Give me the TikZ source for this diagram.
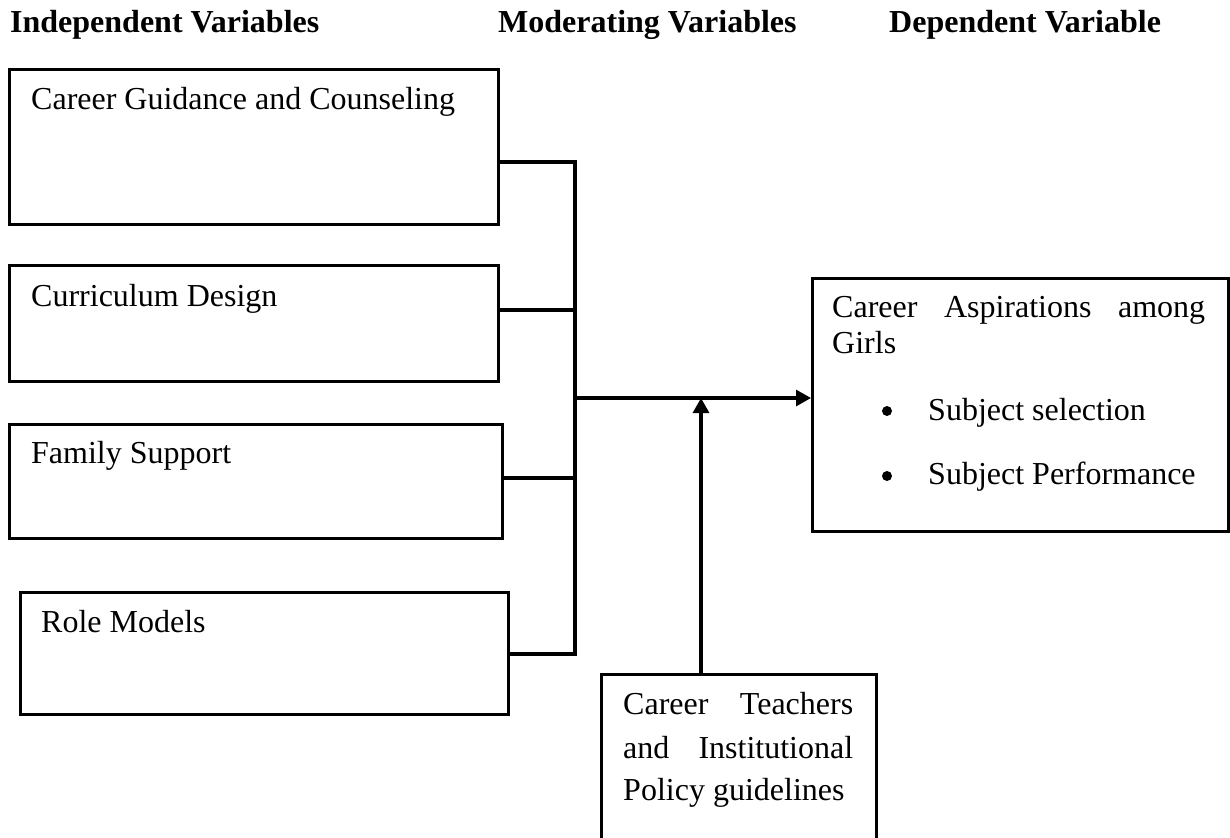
\documentclass[tikz,border=0pt]{standalone}
\usepackage{fontspec}
\setmainfont{Liberation Serif}
\usetikzlibrary{arrows.meta}
\begin{document}
\begin{tikzpicture}[x=1pt,y=-1pt,
  box/.style={draw, line width=3.3pt, rectangle, inner sep=0pt, anchor=north west},
  lbl/.style={anchor=base west, inner sep=0pt, font=\fontsize{32}{37}\selectfont},
  hdr/.style={anchor=base west, inner sep=0pt, font=\fontsize{32}{37}\selectfont\bfseries},
  bul/.style={circle, fill, inner sep=0pt, minimum size=10pt},
  conn/.style={line width=3.1pt},
  arr/.style={line width=3.1pt, -{Triangle[length=15pt,width=16pt]}}]
\clip (0,0) rectangle (1230,837);
\fill[white] (0,0) rectangle (1230,837);

% headers
\node[hdr] (h1) at (10,33) {Independent Variables};
\node[hdr] (h2) at (498,33) {Moderating Variables};
\node[hdr] (h3) at (889,33) {Dependent Variable};

% independent variable boxes
\node[box, minimum width=489pt, minimum height=155pt] (b1) at (8,68) {};
\node[lbl] (t1) at (31,110) {Career Guidance and Counseling};
\node[box, minimum width=489pt, minimum height=116pt] (b2) at (8,264) {};
\node[lbl] (t2) at (31,306) {Curriculum Design};
\node[box, minimum width=493pt, minimum height=114pt] (b3) at (8,423) {};
\node[lbl] (t3) at (31,463) {Family Support};
\node[box, minimum width=488pt, minimum height=122pt] (b4) at (19,591) {};
\node[lbl] (t4) at (41,632) {Role Models};

% dependent variable box
\node[box, minimum width=416pt, minimum height=253pt] (dep) at (811,277) {};
\node[lbl] (d1) at (832,317) {\makebox[373pt][s]{Career\hfill Aspirations\hfill among}};
\node[lbl] (d2) at (832,353) {Girls};
\node[bul] (d3) at (887,411) {};
\node[lbl] (d4) at (928,420) {Subject selection};
\node[bul] (d5) at (887,476) {};
\node[lbl] (d6) at (928,484) {Subject Performance};

% moderating variable box
\node[box, minimum width=275pt, minimum height=200pt] (mod) at (600,673) {};
\node[lbl] (m1) at (623,714) {\makebox[230pt][s]{Career\hfill Teachers}};
\node[lbl] (m2) at (623,758) {\makebox[230pt][s]{and\hfill Institutional}};
\node[lbl] (m3) at (623,800) {Policy guidelines};

% connectors
\coordinate (s1) at (575,162);
\coordinate (s2) at (575,310);
\coordinate (s3) at (575,478);
\coordinate (s4) at (575,654);
\coordinate (sm) at (575,398);
\coordinate (mv) at (701,398);

\draw[conn] (b1.east |- s1) -- (s1) -- (s4) -- (b4.east |- s4);
\draw[conn] (b2.east |- s2) -- (s2);
\draw[conn] (b3.east |- s3) -- (s3);
\draw[arr] (sm) -- (dep.west |- sm);
\draw[arr] (mod.north -| mv) -- (mv);
\end{tikzpicture}
\end{document}
